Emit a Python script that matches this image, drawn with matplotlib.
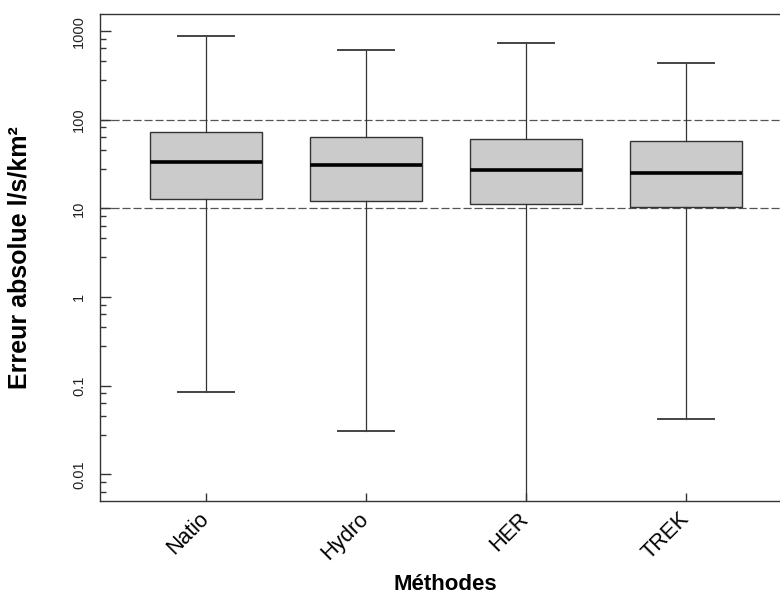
import numpy as np
import matplotlib.pyplot as plt
from matplotlib.ticker import FixedLocator, NullFormatter

plt.rcParams['font.family'] = ['Liberation Sans', 'DejaVu Sans']

# boxplot statistics (l/s/km2)
methods = ['Natio', 'Hydro', 'HER', 'TREK']
whisk_low = [0.085, 0.0306, 0.002, 0.042]
q1 = [12.8, 12.1, 11.3, 10.3]
medians = [33.5, 31.0, 27.0, 25.3]
q3 = [73.6, 64.6, 60.4, 57.3]
whisk_high = [879, 615, 733, 440]

major_ticks = [0.01, 0.1, 1, 10, 100, 1000]
major_labels = ['0.01', '0.1', '1', '10', '100', '1000']
ref_lines = [10, 100]

stats = []
for i in range(len(methods)):
    stats.append({'label': methods[i], 'whislo': whisk_low[i], 'q1': q1[i],
                  'med': medians[i], 'q3': q3[i], 'whishi': whisk_high[i],
                  'fliers': []})

fig = plt.figure(figsize=(7.8, 5.97), dpi=100)
ax = fig.add_axes([100 / 780, 1 - 500.7 / 597, 691.6 / 780, 486.7 / 597])

ax.bxp(stats, positions=range(1, 5), widths=0.7, patch_artist=True,
       showfliers=False,
       boxprops=dict(facecolor='#cbcbcb', edgecolor='#333333', linewidth=1.0),
       whiskerprops=dict(color='#333333', linewidth=0.9),
       capprops=dict(color='#444444', linewidth=1.4),
       medianprops=dict(color='black', linewidth=2.6),
       capwidths=0.35, zorder=2)

for y in ref_lines:
    ax.axhline(y, color='#555555', linewidth=0.9, linestyle=(0, (6.5, 2.3)), zorder=1)

ax.set_yscale('log')
ax.set_ylim(0.00505, 1564)
ax.set_xlim(0.34, 4.66)

minor = []
for p in range(-3, 3):
    for k in range(1, 5):
        minor.append(10.0 ** p * (1 + 1.8 * k))
ax.yaxis.set_major_locator(FixedLocator(major_ticks))
ax.set_yticklabels(major_labels, rotation=90, va='center', fontsize=10.5)
ax.yaxis.set_minor_locator(FixedLocator(minor))
ax.yaxis.set_minor_formatter(NullFormatter())
ax.tick_params(axis='y', which='major', direction='in', length=8, width=1, pad=10, colors='#333333', labelcolor='#222222')
ax.tick_params(axis='y', which='minor', direction='in', length=4, width=1, colors='#333333')

ax.set_xticks(range(1, 5))
ax.set_xticklabels(methods, rotation=45, ha='right', va='center', rotation_mode='anchor', fontsize=15.5)
ax.tick_params(axis='x', direction='in', length=5.5, width=1, pad=11, colors='#333333', labelcolor='black')

for s in ['left', 'bottom', 'top', 'right']:
    ax.spines[s].set_color('#333333')
    ax.spines[s].set_linewidth(1.0)

ax.set_xlabel('Méthodes', fontsize=16, fontweight='bold')
ax.xaxis.set_label_coords(0.5, -0.151)
ax.set_ylabel('Erreur absolue l/s/km²', fontsize=18, fontweight='bold')
ax.yaxis.set_label_coords(-0.099, 0.5)

fig.savefig('out.png', dpi=100)
